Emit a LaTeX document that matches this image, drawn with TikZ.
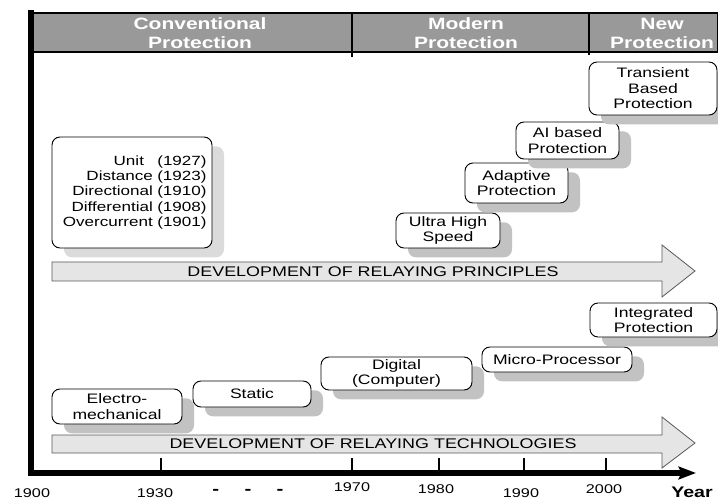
\documentclass[tikz,border=0pt]{standalone}
\usepackage{fontspec}
\setmainfont{Liberation Sans}[FakeStretch=1.28]
\usepackage{tikz}
\usetikzlibrary{arrows.meta}
\usetikzlibrary{shadows}
\usepackage{xcolor}
\definecolor{headgray}{gray}{0.6}
\definecolor{shadegray}{gray}{0.76}
\definecolor{hatchgray}{gray}{0.86}
\definecolor{arrowgray}{gray}{0.9}
\definecolor{rimgray}{gray}{0.35}
\tikzset{
  stagebox/.style={draw, line width=0.7pt, fill=white, rounded corners=6pt, inner sep=0pt, align=center,
    font=\fontsize{10.3}{11.6}\selectfont,
    drop shadow={shadow xshift=9pt, shadow yshift=-7pt, fill=#1, opacity=1}},
  stagebox/.default=shadegray,
  trendarrow/.style={draw=rimgray, fill=arrowgray, line width=0.6pt},
  trendtext/.style={font=\fontsize{10.5}{12}\selectfont},
  headtext/.style={text=white, align=center, font=\fontsize{12.3}{14.3}\selectfont\bfseries},
  yearlabel/.style={font=\fontsize{9.5}{11}\selectfont},
}
\begin{document}
\begin{tikzpicture}[x=0.75pt,y=-0.75pt]
\useasboundingbox (0,0) rectangle (718,499);
\draw[fill=headgray, line width=0.8pt] (33,13) rectangle (718,52);
\draw[line width=0.8pt] (352,13) -- (352,57);
\draw[line width=0.8pt] (589,13) -- (589,55);
\node[headtext] (conv) at (200,33.5) {Conventional\\Protection};
\node[headtext] (modern) at (466,33.5) {Modern\\Protection};
\node[headtext] (new) at (662,33.5) {New\\Protection};

\coordinate (ytop) at (31,10);
\coordinate (origin) at (31,473);
\coordinate (xend) at (696,473);
\draw[line width=4pt, line join=miter, -{Stealth[length=13pt,width=9.5pt,inset=2pt]}] (ytop) -- (origin) -- (xend);
\foreach \x in {161,352,439,524,606}
  \draw[line width=0.8pt] (\x,458) -- (\x,473);

\node[yearlabel] (y1900) at (32,493) {1900};
\node[yearlabel] (y1930) at (155,493.5) {1930};
\node[font=\fontsize{12}{14}\selectfont\bfseries] (gap) at (248,492) {-\hspace{19pt}-\hspace{19pt}-};
\node[yearlabel] (y1970) at (352,487) {1970};
\node[yearlabel] (y1980) at (436,489) {1980};
\node[yearlabel] (y1990) at (521,493.5) {1990};
\node[yearlabel] (y2000) at (604,489) {2000};
\node[font=\fontsize{11.5}{13}\selectfont\bfseries] (year) at (692,492) {Year};

\draw[trendarrow] (52,262) -- (662,262) -- (662,245) -- (695,271) -- (662,297) -- (662,281) -- (52,281) -- cycle;
\node[trendtext] (principles) at (373,271.5) {DEVELOPMENT OF RELAYING PRINCIPLES};
\draw[trendarrow] (52,435) -- (662,435) -- (662,417) -- (695,443) -- (662,468) -- (662,453) -- (52,453) -- cycle;
\node[trendtext] (technologies) at (373,444) {DEVELOPMENT OF RELAYING TECHNOLOGIES};

\node[stagebox=hatchgray, minimum width=120pt, minimum height=83.25pt, text width=112pt, align=right,
  font=\fontsize{10}{11.6}\selectfont] (rules) at (132,192.5)
  {Unit\ \ \ (1927)\\Distance (1923)\\Directional (1910)\\Differential (1908)\\Overcurrent (1901)};
\node[stagebox, minimum width=78pt, minimum height=26.25pt] (ultra) at (448,230.5) {Ultra High\\Speed};
\node[stagebox, minimum width=77.25pt, minimum height=30pt] (adaptive) at (516.5,183) {Adaptive\\Protection};
\node[stagebox, minimum width=77.25pt, minimum height=27.75pt] (aibased) at (567.5,140.5) {AI based\\Protection};
\node[stagebox, minimum width=96pt, minimum height=39.75pt] (transient) at (653,88.5) {Transient\\Based\\Protection};

\node[stagebox, minimum width=97.5pt, minimum height=26.25pt] (electro) at (117,406.5) {Electro-\\mechanical};
\node[stagebox, minimum width=88.5pt, minimum height=19.5pt] (static) at (252,394) {Static};
\node[stagebox, minimum width=113.25pt, minimum height=24.75pt] (digital) at (396.5,373.5) {Digital\\(Computer)};
\node[stagebox, minimum width=112.5pt, minimum height=18.75pt] (micro) at (557,359.5) {Micro-Processor};
\node[stagebox, minimum width=95.25pt, minimum height=25.5pt] (integrated) at (653.5,320) {Integrated\\Protection};
\end{tikzpicture}
\end{document}
